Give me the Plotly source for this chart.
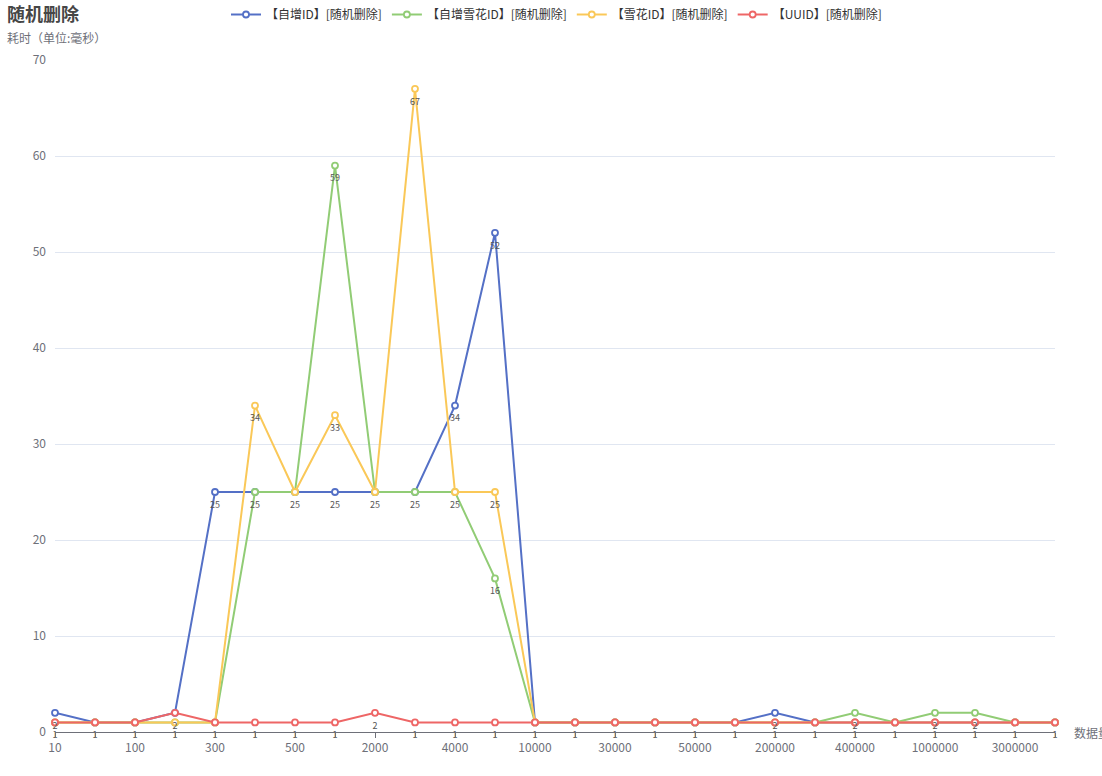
import plotly.graph_objects as go

categories = ["10", "50", "100", "200", "300", "400", "500", "1000", "2000", "3000",
              "4000", "5000", "10000", "20000", "30000", "40000", "50000", "100000",
              "200000", "300000", "400000", "500000", "1000000", "2000000", "3000000", "5000000"]
shown_labels = ["10", "100", "300", "500", "2000", "4000", "10000", "30000", "50000",
                "200000", "400000", "1000000", "3000000"]

auto_id = [2, 1, 1, 2, 25, 25, 25, 25, 25, 25, 34, 52, 1, 1, 1, 1, 1, 1, 2, 1, 1, 1, 1, 1, 1, 1]
auto_snow = [1, 1, 1, 1, 1, 25, 25, 59, 25, 25, 25, 16, 1, 1, 1, 1, 1, 1, 1, 1, 2, 1, 2, 2, 1, 1]
snow_id = [1, 1, 1, 1, 1, 34, 25, 33, 25, 67, 25, 25, 1, 1, 1, 1, 1, 1, 1, 1, 1, 1, 1, 1, 1, 1]
uuid = [1, 1, 1, 2, 1, 1, 1, 1, 2, 1, 1, 1, 1, 1, 1, 1, 1, 1, 1, 1, 1, 1, 1, 1, 1, 1]

series = [
    ("【自增ID】[随机删除]", auto_id, "#5470c6"),
    ("【自增雪花ID】[随机删除]", auto_snow, "#91cc75"),
    ("【雪花ID】[随机删除]", snow_id, "#fac858"),
    ("【UUID】[随机删除]", uuid, "#ee6666"),
]

FONT = "Noto Sans CJK SC, Microsoft YaHei, sans-serif"

fig = go.Figure()
for name, vals, color in series:
    fig.add_trace(go.Scatter(
        x=categories, y=vals, name=name, mode="lines+markers",
        line=dict(color=color, width=2),
        marker=dict(size=6, color="white", line=dict(color=color, width=1.8)),
        cliponaxis=False, hoverinfo="x+y+name",
    ))

# value labels (drawn above the lines, offset below each point);
# identical labels at the same spot are written once so they do not render bolder
for si, (name, vals, color) in enumerate(series):
    texts = []
    for i, v in enumerate(vals):
        dup = any(series[sj][1][i] == v for sj in range(si))
        texts.append("" if dup else str(v))
    fig.add_trace(go.Scatter(
        x=categories, y=vals, mode="markers+text", showlegend=False,
        marker=dict(size=13, opacity=0),
        text=texts, textposition="bottom center",
        textfont=dict(size=9, color="#555", family=FONT),
        cliponaxis=False, hoverinfo="skip",
    ))

ticktext = [c if c in shown_labels else "" for c in categories]

W, H = 1102, 776
ml, mr, mt, mb = 55, 47, 60, 44
pw, ph = W - ml - mr, H - mt - mb

def px(xp):
    return (xp - ml) / pw

def py(yp):
    return (H - mb - yp) / ph

fig.update_layout(
    width=W, height=H,
    margin=dict(l=ml, r=mr, t=mt, b=mb),
    paper_bgcolor="white", plot_bgcolor="white",
    font=dict(family=FONT, size=12, color="#6E7079"),
    showlegend=True,
    legend=dict(orientation="h", x=0.505, xanchor="center", xref="container",
                y=1.0, yanchor="top", yref="container",
                font=dict(size=12, color="#333"), itemwidth=30,
                bgcolor="rgba(0,0,0,0)"),
    xaxis=dict(type="category", range=[0, len(categories) - 1],
               tickmode="array", tickvals=categories, ticktext=ticktext,
               showgrid=False, showline=True, linecolor="#6E7079", linewidth=1,
               ticks="outside", ticklen=5, tickcolor="#6E7079",
               tickfont=dict(size=12, color="#6E7079"), zeroline=False),
    yaxis=dict(range=[0, 70], tick0=0, dtick=10, showgrid=True, gridcolor="#E0E6F1",
               showline=False, zeroline=False, ticks="", ticklabelstandoff=8,
               tickfont=dict(size=12, color="#6E7079")),
    annotations=[
        dict(text="<b>随机删除</b>", x=px(5), y=py(13), xref="paper", yref="paper",
             xanchor="left", yanchor="middle", showarrow=False,
             font=dict(size=18, color="#464646", family=FONT)),
        dict(text="耗时（单位:毫秒）", x=px(5), y=py(37), xref="paper", yref="paper",
             xanchor="left", yanchor="middle", showarrow=False,
             font=dict(size=12, color="#6E7079", family=FONT)),
        dict(text="数据量", x=px(1072), y=py(732), xref="paper", yref="paper",
             xanchor="left", yanchor="middle", showarrow=False,
             font=dict(size=12, color="#6E7079", family=FONT)),
    ],
)

fig.write_html("out.html", post_script="document.body.style.margin='0';",
               config={"displayModeBar": False})
